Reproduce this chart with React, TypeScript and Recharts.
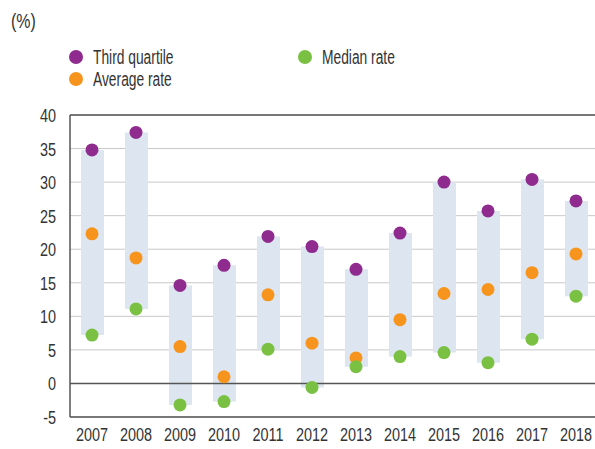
import React from 'react';
import { ComposedChart, Bar, Line, XAxis, YAxis, CartesianGrid, ReferenceLine } from 'recharts';

const years = ['2007', '2008', '2009', '2010', '2011', '2012', '2013', '2014', '2015', '2016', '2017', '2018'];
const thirdQuartile = [34.8, 37.4, 14.6, 17.6, 21.9, 20.4, 17.0, 22.4, 30.0, 25.7, 30.4, 27.2];
const averageRate = [22.3, 18.7, 5.5, 1.0, 13.2, 6.0, 3.8, 9.5, 13.4, 14.0, 16.5, 19.3];
const medianRate = [7.2, 11.1, -3.2, -2.7, 5.1, -0.6, 2.5, 4.0, 4.6, 3.1, 6.6, 13.0];
const yTicks = [-5, 0, 5, 10, 15, 20, 25, 30, 35, 40];

const PURPLE = '#8f2a8e';
const ORANGE = '#f7941d';
const GREEN = '#7ac143';
const BAND = '#dde6f0';
const TEXT = '#333';
const FONT = '"Liberation Sans", Arial, sans-serif';
const SQUEEZE = 0.76;

const data = years.map((year, i) => ({
    year,
    q3: thirdQuartile[i],
    avg: averageRate[i],
    median: medianRate[i],
    range: [medianRate[i], thirdQuartile[i]],
}));

const legendItems = [
    { label: 'Third quartile', color: PURPLE, x: 69, y: 48 },
    { label: 'Average rate', color: ORANGE, x: 69, y: 70 },
    { label: 'Median rate', color: GREEN, x: 298, y: 48 },
];

const dotStyle = (color: string) => ({ r: 6.5, fill: color, stroke: 'none' });

// narrow text so it looks like the condensed face of the original
const XTick = ({ x, y, payload }: any) => (
    <text transform={`translate(${x},${y + 16}) scale(${SQUEEZE},1)`} textAnchor="middle" fill={TEXT} fontSize={19} fontFamily={FONT}>
        {payload.value}
    </text>
);

const YTick = ({ x, y, payload }: any) => (
    <text transform={`translate(${x - 6},${y + 7}) scale(${SQUEEZE},1)`} textAnchor="end" fill={TEXT} fontSize={19} fontFamily={FONT}>
        {payload.value}
    </text>
);

const App: React.FC = () => {
    return (
        <div style={{ position: 'absolute', left: 0, top: 0, width: 595, height: 449, overflow: 'hidden', background: '#fff', fontFamily: FONT, color: TEXT }}>
            <div style={{ position: 'absolute', left: 11, top: 9, fontSize: 21, transform: `scaleX(${SQUEEZE})`, transformOrigin: 'left' }}>(%)</div>

            {/* Legend */}
            {legendItems.map((item) => (
                <div key={item.label} style={{ position: 'absolute', left: item.x, top: item.y, display: 'flex', alignItems: 'center', height: 18 }}>
                    <div style={{ width: 14, height: 14, borderRadius: '50%', background: item.color, flexShrink: 0 }} />
                    <span style={{ marginLeft: 10, fontSize: 20, whiteSpace: 'nowrap', transform: 'scaleX(0.69)', transformOrigin: 'left' }}>{item.label}</span>
                </div>
            ))}

            <div style={{ position: 'absolute', left: 0, top: 0 }}>
                <ComposedChart width={598} height={449} data={data} margin={{ top: 115, right: 0, bottom: 0, left: 0 }}>
                    <CartesianGrid vertical={false} stroke="#c8c8c8" strokeWidth={1} />
                    <XAxis
                        dataKey="year"
                        height={32}
                        axisLine={{ stroke: '#555', strokeWidth: 1.5 }}
                        tickLine={false}
                        tick={<XTick />}
                        interval={0}
                    />
                    <YAxis
                        domain={[-5, 40]}
                        ticks={yTicks}
                        width={70}
                        axisLine={{ stroke: '#555', strokeWidth: 1.5 }}
                        tickLine={false}
                        tick={<YTick />}
                        interval={0}
                    />
                    <ReferenceLine y={0} stroke="#555" strokeWidth={1.5} />
                    <ReferenceLine y={40} stroke="#555" strokeWidth={1.5} />
                    <Bar dataKey="range" fill={BAND} barSize={23} isAnimationActive={false} />
                    <Line dataKey="q3" stroke="none" dot={dotStyle(PURPLE)} activeDot={false} isAnimationActive={false} />
                    <Line dataKey="avg" stroke="none" dot={dotStyle(ORANGE)} activeDot={false} isAnimationActive={false} />
                    <Line dataKey="median" stroke="none" dot={dotStyle(GREEN)} activeDot={false} isAnimationActive={false} />
                </ComposedChart>
            </div>
        </div>
    );
};

export default App;
